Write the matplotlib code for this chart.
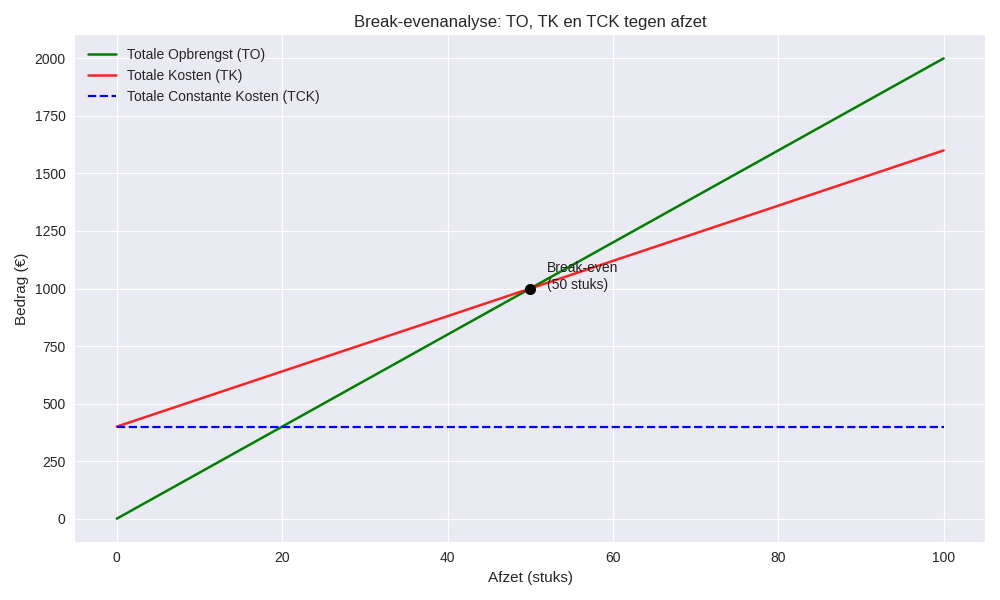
import matplotlib.pyplot as plt

plt.style.use("seaborn-v0_8-darkgrid")
plt.rcParams["font.family"] = ["Liberation Sans", "DejaVu Sans"]

# data
afzet = [0, 100]
opbrengst = [0, 2000]
kosten = [400, 1600]
constante_kosten = [400, 400]
be_x = 50
be_y = 1000

fig, ax = plt.subplots(figsize=(10, 6), dpi=100)

ax.plot(afzet, opbrengst, color="green", linewidth=1.8, label="Totale Opbrengst (TO)")
ax.plot(afzet, kosten, color="red", linewidth=1.8, alpha=0.85, label="Totale Kosten (TK)")
ax.plot(afzet, constante_kosten, color="blue", linestyle="--", linewidth=1.6,
        label="Totale Constante Kosten (TCK)")
ax.plot(be_x, be_y, "o", color="black", markersize=7, zorder=5)
ax.annotate(f"Break-even\n({be_x} stuks)", xy=(be_x, be_y), xytext=(be_x + 2, be_y),
            fontsize=10, color="#222222")

ax.set_title("Break-evenanalyse: TO, TK en TCK tegen afzet", fontsize=12)
ax.set_xlabel("Afzet (stuks)", fontsize=11)
ax.set_ylabel("Bedrag (€)", fontsize=11)
pad = plt.rcParams["xtick.major.pad"] + 3.5
ax.tick_params(labelsize=10, pad=pad)
ax.legend(loc="upper left", fontsize=10)

plt.tight_layout()
fig.savefig("out.png", dpi=100)
